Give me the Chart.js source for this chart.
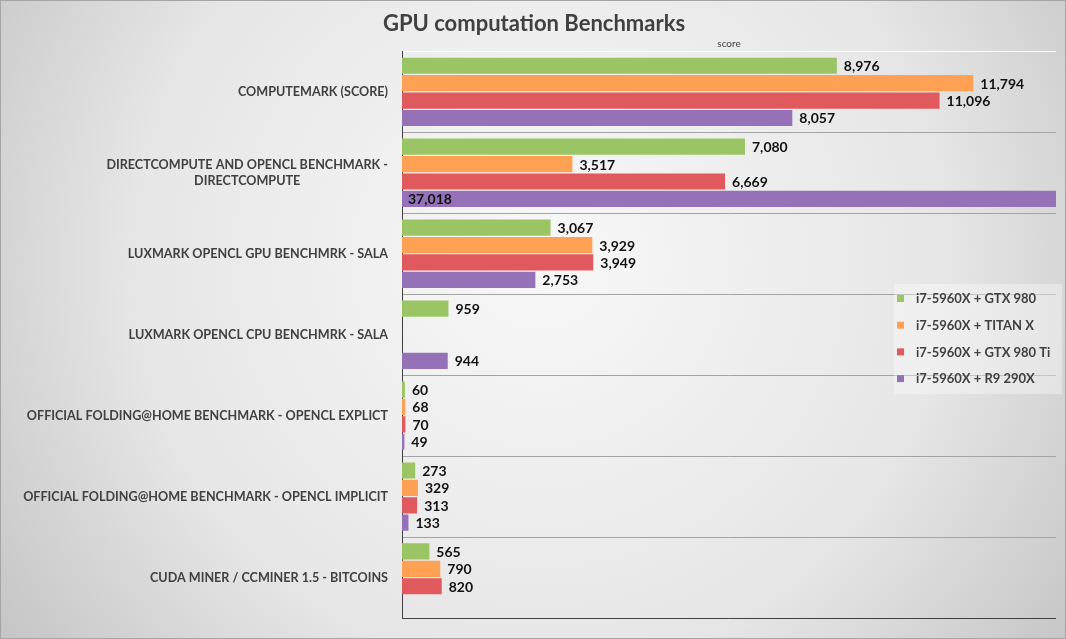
<!DOCTYPE html>
<html>
<head>
<meta charset="utf-8">
<title>GPU computation Benchmarks</title>
<script src="https://cdn.jsdelivr.net/npm/chart.js@4.4.1/dist/chart.umd.min.js"></script>
<style>
  html, body { margin: 0; padding: 0; background: #d6d6d6; }
  #wrap { position: relative; width: 1066px; height: 639px; }
</style>
</head>
<body>
<div id="wrap"><canvas id="chart"></canvas></div>
<script>
// benchmark names, top to bottom (arrays = wrapped labels)
const categories = [
  "COMPUTEMARK (SCORE)",
  ["DIRECTCOMPUTE AND OPENCL BENCHMARK -", "DIRECTCOMPUTE"],
  "LUXMARK OPENCL GPU BENCHMRK - SALA",
  "LUXMARK OPENCL CPU BENCHMRK - SALA",
  "OFFICIAL FOLDING@HOME BENCHMARK - OPENCL EXPLICT",
  "OFFICIAL FOLDING@HOME BENCHMARK - OPENCL IMPLICIT",
  "CUDA MINER / CCMINER 1.5 - BITCOINS"
];

const seriesNames = [
  "i7-5960X + GTX 980",
  "i7-5960X + TITAN X",
  "i7-5960X + GTX 980 Ti",
  "i7-5960X + R9 290X"
];

const gtx980   = [8976, 7080, 3067, 959, 60, 273, 565];
const titanX   = [11794, 3517, 3929, null, 68, 329, 790];
const gtx980Ti = [11096, 6669, 3949, null, 70, 313, 820];
const r9290x   = [8057, 37018, 2753, 944, 49, 133, null];

const colors = ["#9BC464", "#FFA154", "#E0595C", "#9572B8"];
const FONT = "Lato, 'Open Sans', sans-serif";

const bgPlugin = {
  id: "bg",
  beforeDraw(chart) {
    const { ctx, width, height } = chart;
    ctx.save();
    const g = ctx.createRadialGradient(540, 260, 20, 540, 260, 720);
    g.addColorStop(0, "#f7f7f7");
    g.addColorStop(0.55, "#e6e6e6");
    g.addColorStop(1, "#bdbdbd");
    ctx.fillStyle = g;
    ctx.fillRect(0, 0, width, height);
    ctx.strokeStyle = "#a5a5a5";
    ctx.lineWidth = 1;
    ctx.strokeRect(0.5, 0.5, width - 1, height - 1);
    ctx.restore();
  }
};

// category names: right aligned, wrapped lines centred on each other
const catLabels = {
  id: "catLabels",
  afterDraw(chart) {
    const { ctx } = chart;
    const y = chart.scales.y;
    ctx.save();
    ctx.font = "bold 12.6px " + FONT;
    ctx.fillStyle = "#404040";
    ctx.textBaseline = "middle";
    ctx.textAlign = "center";
    const right = y.right - 14;
    categories.forEach((c, i) => {
      const lines = Array.isArray(c) ? c : [c];
      const w = Math.max(...lines.map(l => ctx.measureText(l).width));
      const cx = right - w / 2;
      const cy = y.getPixelForValue(i);
      const lh = 16.5;
      lines.forEach((l, k) => {
        ctx.fillText(l, cx, cy + (k - (lines.length - 1) / 2) * lh);
      });
    });
    ctx.restore();
  }
};

const valueLabels = {
  id: "valueLabels",
  afterDatasetsDraw(chart) {
    const { ctx, chartArea } = chart;
    ctx.save();
    ctx.font = "bold 14px " + FONT;
    ctx.fillStyle = "#111";
    ctx.textBaseline = "middle";
    ctx.textAlign = "left";
    chart.data.datasets.forEach((ds, di) => {
      const meta = chart.getDatasetMeta(di);
      meta.data.forEach((bar, i) => {
        const v = ds.data[i];
        if (v === null || v === undefined) return;
        const txt = v.toLocaleString("en-US");
        const x = bar.x > chartArea.right ? chartArea.left + 6 : bar.x + 7;
        ctx.fillText(txt, x, bar.y + 1);
      });
    });
    ctx.restore();
  }
};

const legendBox = {
  id: "legendBox",
  afterDraw(chart) {
    const { ctx } = chart;
    ctx.save();
    ctx.fillStyle = "rgba(255,255,255,0.35)";
    ctx.fillRect(894, 284, 168, 110);
    ctx.font = "bold 13px " + FONT;
    ctx.textBaseline = "middle";
    ctx.textAlign = "left";
    chart.data.datasets.forEach((ds, i) => {
      const cy = 299 + i * 26.7;
      ctx.fillStyle = ds.backgroundColor;
      ctx.fillRect(897, cy - 4, 7, 7);
      ctx.fillStyle = "#404040";
      ctx.fillText(ds.label, 916, cy);
    });
    ctx.restore();
  }
};

const allSeries = [gtx980, titanX, gtx980Ti, r9290x];

new Chart(document.getElementById("chart"), {
  type: "bar",
  data: {
    labels: categories,
    datasets: allSeries.map((d, i) => ({
      label: seriesNames[i],
      data: d,
      backgroundColor: colors[i],
      borderWidth: 0,
      barPercentage: 0.93,
      categoryPercentage: 0.86
    }))
  },
  options: {
    indexAxis: "y",
    responsive: true,
    maintainAspectRatio: false,
    animation: false,
    layout: { padding: { left: 12, right: 10, top: 0, bottom: 21 } },
    plugins: {
      legend: { display: false },
      tooltip: { enabled: false },
      title: {
        display: true,
        text: "GPU computation Benchmarks",
        color: "#404040",
        font: { family: FONT, size: 22, weight: "bold" },
        padding: { top: 11, bottom: 0 }
      }
    },
    scales: {
      x: {
        position: "top",
        min: 0,
        max: 13500,
        grid: { display: false },
        border: { display: false },
        ticks: { display: false },
        title: {
          display: true,
          text: "score",
          color: "#404040",
          font: { family: FONT, size: 10 },
          padding: 0
        },
        afterFit: (s) => { s.height = 14; }
      },
      y: {
        grid: {
          offset: true,
          drawTicks: false,
          color: (c) => c.type === "scale" ? "#404040" : (c.index === 0 ? "rgba(255,255,255,0.9)" : "#a3a3a3")
        },
        border: { display: true, color: "#404040", width: 1 },
        ticks: { display: false },
        afterFit: (s) => { s.width = 390; }
      }
    }
  },
  plugins: [bgPlugin, catLabels, valueLabels, legendBox]
});
</script>
</body>
</html>
